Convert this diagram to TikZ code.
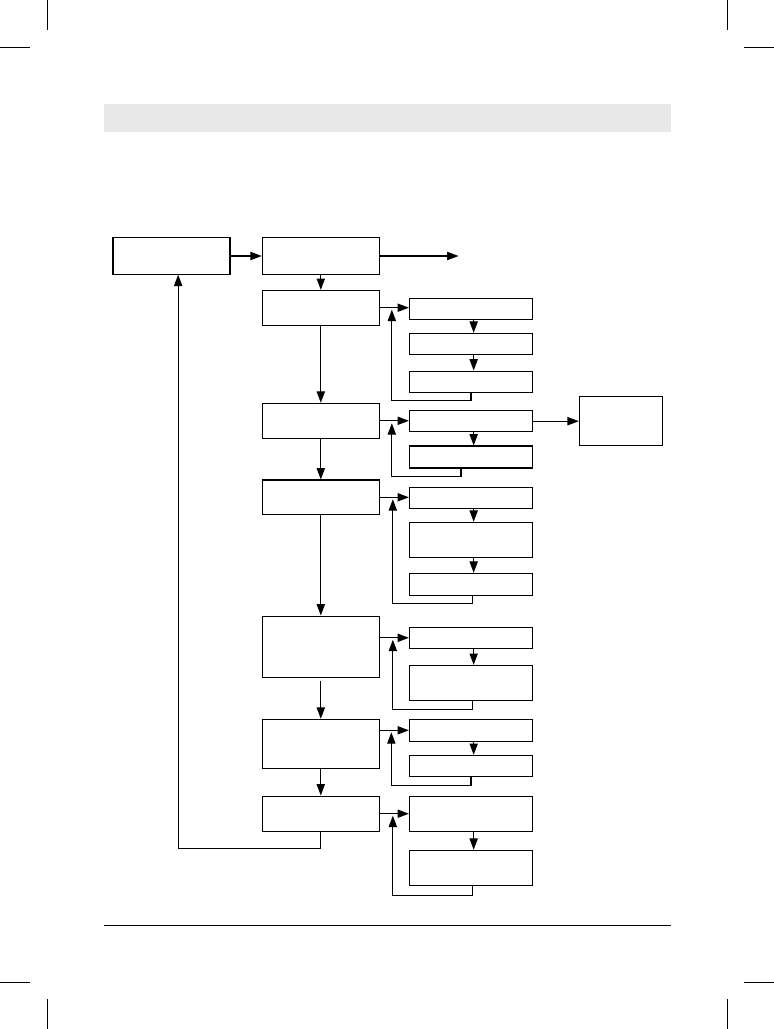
\documentclass[tikz,border=0pt]{standalone}
\usetikzlibrary{arrows.meta,positioning,calc}

\begin{document}
\begin{tikzpicture}[>={Triangle[length=8.5pt,width=6.2pt]},x=0.75pt,y=-0.75pt,line width=0.8pt,
 blk/.style={draw,minimum width=87.75pt,minimum height=#1,inner sep=0pt},
 blk/.default=26.25pt,
 sub/.style={draw,minimum width=92.4pt,minimum height=#1,inner sep=0pt},
 sub/.default=15.75pt,
 cropln/.style={line width=0.6pt}]
\useasboundingbox (0,0) rectangle (774,1029);
% crop marks, band and rule
\draw[cropln] (47,0) -- (47,30);
\draw[cropln] (0,47) -- (30,47);
\draw[cropln] (727.5,0) -- (727.5,30);
\draw[cropln] (744,47) -- (774,47);
\draw[cropln] (47,999) -- (47,1029);
\draw[cropln] (0,982) -- (30,982);
\draw[cropln] (727.5,999) -- (727.5,1029);
\draw[cropln] (744,982) -- (774,982);
\fill[black!9] (104,104) rectangle (671,132);
\draw[line width=0.7pt] (104,925) -- (671,925);
% main column
\node[blk=27.2pt] (A) at (171.5,256.0) {};
\node[blk=27.2pt] (B) at (320.8,256.0) {};
\node[blk=26pt] (C) at (320.8,307.7) {};
\node[blk] (D) at (320.8,420.8) {};
\node[blk=26pt] (F) at (320.8,497.3) {};
\node[blk=46pt] (G) at (320.8,646.7) {};
\node[blk=36.75pt] (H) at (320.8,743.8) {};
\node[blk=26.5pt] (I) at (320.8,813.7) {};
% side boxes
\node[sub] (c1) at (471.0,308.8) {};
\node[sub] (c2) at (471.0,343.8) {};
\node[sub=16pt] (c3) at (471.0,381.7) {};
\node[sub] (d1) at (471.0,421.2) {};
\node[sub=16.5pt] (d2) at (471.0,457.0) {};
\node[draw,minimum width=62.5pt,minimum height=37pt,inner sep=0pt] (E) at (621.0,420.7) {};
\node[sub] (f1) at (471.0,497.8) {};
\node[sub=26.25pt] (f2) at (471.0,539.8) {};
\node[sub=16.5pt] (f3) at (471.0,584.3) {};
\node[sub] (g1) at (471.0,637.8) {};
\node[sub=26pt] (g2) at (471.0,682.7) {};
\node[sub=16.5pt] (h1) at (471.0,730.3) {};
\node[sub=15.5pt] (h2) at (471.0,765.7) {};
\node[sub=26.5pt] (i1) at (471.0,813.7) {};
\node[sub=26.25pt] (i2) at (471.0,867.8) {};
\coordinate (out) at (458.5,256.0);
\coordinate (cj) at ($(C.east)+(12,2)$);
\coordinate (dj) at ($(D.east)+(12,2.5)$);
\coordinate (fj) at ($(F.east)+(13,2)$);
\coordinate (gj) at ($(G.east |- g1.west)+(13,2)$);
\coordinate (hj) at ($(H.east |- h1.west)+(11.5,2)$);
\coordinate (ij) at ($(I.east)+(13,2)$);
% main flow
\draw[->] (A) -- (B);
\draw[->] (B) -- (out);
\draw[->] (B) -- (C);
\draw[->] (C) -- (D);
\draw[->] (D) -- (F);
\draw[->] (F) -- (G);
\draw[->,shorten <=2pt] (G) -- (H);
\draw[->] (H) -- (I);
\draw[->] (I.south) -- ++(0,17) -| ([xshift=5pt]A.south);
% side branches
\draw[->] (C.east) -- (C.east -| c1.west);
\draw[->] ([xshift=2pt]c1.south) -- ([xshift=2pt]c2.north);
\draw[->] ([xshift=2pt]c2.south) -- ([xshift=2pt]c3.north);
\draw[->] (c3.south) -- ++(0,8) -| (cj);
\draw[->] (D.east) -- (D.east -| d1.west);
\draw[->] ([xshift=2pt]d1.south) -- ([xshift=2pt]d2.north);
\draw[->] ([xshift=-7.5pt]d2.south) -- ++(0,8) -| (dj);
\draw[->] (d1.east) -- (d1.east -| E.west);
\draw[->] (F.east) -- (F.east -| f1.west);
\draw[->] ([xshift=2pt]f1.south) -- ([xshift=2pt]f2.north);
\draw[->] ([xshift=2pt]f2.south) -- ([xshift=2pt]f3.north);
\draw[->] ([xshift=1pt]f3.south) -- ++(0,8) -| (fj);
\draw[->] (G.east |- g1.west) -- (g1.west);
\draw[->] ([xshift=2pt]g1.south) -- ([xshift=2pt]g2.north);
\draw[->] ([xshift=1pt]g2.south) -- ++(0,9) -| (gj);
\draw[->] (H.east |- h1.west) -- (h1.west);
\draw[->] ([xshift=2pt]h1.south) -- ([xshift=2pt]h2.north);
\draw[->] (h2.south) -- ++(0,9) -| (hj);
\draw[->] (I.east) -- (i1.west);
\draw[->] ([xshift=2pt]i1.south) -- ([xshift=2pt]i2.north);
\draw[->] ([xshift=1pt]i2.south) -- ++(0,10) -| (ij);
\end{tikzpicture}
\end{document}
